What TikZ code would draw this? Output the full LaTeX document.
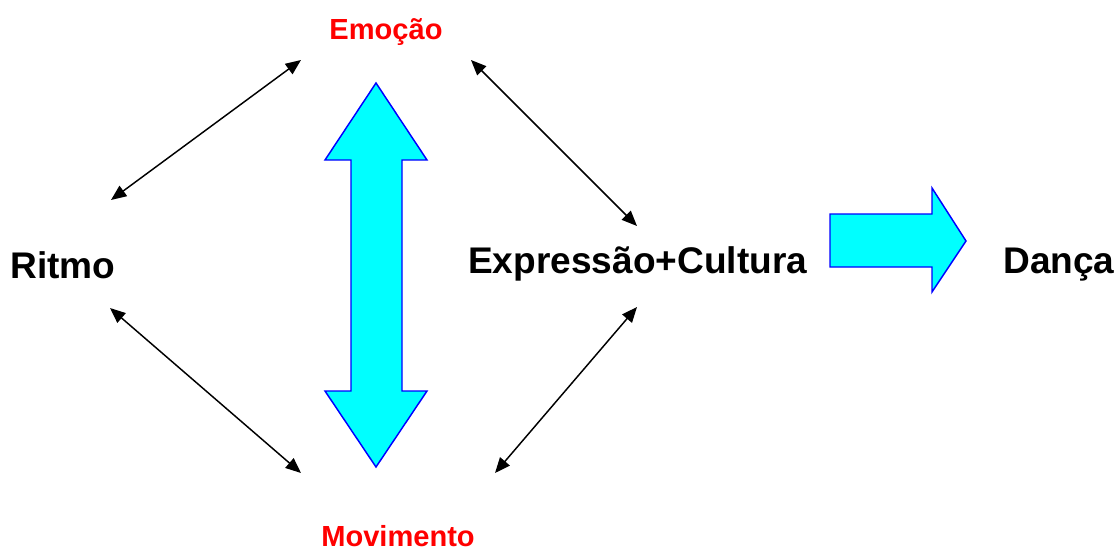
\documentclass[tikz,border=0pt]{standalone}
\usepackage{fontspec}
\setmainfont{Liberation Sans}
\usetikzlibrary{arrows.meta}
\definecolor{bigfill}{RGB}{0,255,255}
\definecolor{bigline}{RGB}{0,0,255}
\definecolor{labelred}{RGB}{255,0,0}
\tikzset{
  linkarrow/.style={line width=1.1pt,{Triangle[length=11.5pt,width=9.5pt]}-{Triangle[length=11.5pt,width=9.5pt]}},
  bigarrow/.style={fill=bigfill,draw=bigline,line width=1.1pt,line join=miter},
  bigtext/.style={inner sep=0pt,font=\bfseries\fontsize{27.8}{32}\selectfont},
  redtext/.style={inner sep=0pt,text=labelred,font=\bfseries\fontsize{21.8}{25}\selectfont}
}
\begin{document}
\begin{tikzpicture}[x=0.75pt,y=0.75pt,yscale=-1,xscale=1]
\useasboundingbox (0,0) rectangle (1117,550);

% Text Node
\node (emocao) at (386,39) [anchor=base,redtext] {Emoção};
% Text Node
\node (movimento) at (398,546) [anchor=base,redtext] {Movimento};
% Text Node
\node (ritmo) at (10,278) [anchor=base west,bigtext] {Ritmo};
% Text Node
\node (expressao) at (468,273) [anchor=base west,bigtext] {Expressão+Cultura};
% Text Node
\node (danca) at (1003,273) [anchor=base west,bigtext] {Dança};

%Arrow ends
\coordinate (ritmoup) at (111,200);
\coordinate (emocaol) at (301,60);
\coordinate (emocaor) at (471,60);
\coordinate (exprup) at (637,226);
\coordinate (exprdown) at (637,307);
\coordinate (movr) at (495,473);
\coordinate (movl) at (301,473);
\coordinate (ritmodown) at (110,308);

%Straight Lines
\draw [linkarrow] (ritmoup) -- (emocaol);
\draw [linkarrow] (emocaor) -- (exprup);
\draw [linkarrow] (exprdown) -- (movr);
\draw [linkarrow] (ritmodown) -- (movl);

%Up Down Arrow
\draw [bigarrow] (376,83) -- (427,160) -- (402,160) -- (402,391) -- (427,391) -- (376,467)
  -- (325,391) -- (351,391) -- (351,160) -- (325,160) -- cycle;
%Right Arrow
\draw [bigarrow] (830,214) -- (932,214) -- (932,188) -- (966,241) -- (932,292) -- (932,267)
  -- (830,267) -- cycle;
\end{tikzpicture}
\end{document}
